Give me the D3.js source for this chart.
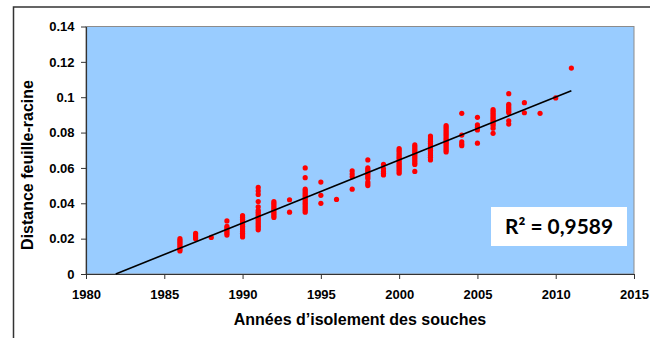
<!DOCTYPE html>
<html>
<head>
<meta charset="utf-8">
<script src="https://cdn.jsdelivr.net/npm/d3@7"></script>
<style>
  body { margin: 0; background: #fff; }
  svg { display: block; }
  text { font-family: "Liberation Sans", Arial, sans-serif; font-weight: bold; fill: #000; }
</style>
</head>
<body>
<svg id="chart" width="650" height="338"></svg>
<script>
// Isolation year of each group of strains
const sampleYears = [1986, 1987, 1988, 1989, 1990, 1991, 1992, 1993, 1994, 1995, 1996, 1997, 1998,
  1999, 2000, 2001, 2002, 2003, 2004, 2005, 2006, 2007, 2008, 2009, 2010, 2011];

// Leaf-root distance of the strains isolated that year
const distanceByYear = [
  [0.013, 0.014, 0.015, 0.016, 0.017, 0.018, 0.019, 0.020],
  [0.020, 0.021, 0.022, 0.023],
  [0.0207],
  [0.022, 0.023, 0.024, 0.025, 0.026, 0.027, 0.030],
  [0.021, 0.022, 0.023, 0.024, 0.025, 0.026, 0.027, 0.028, 0.029, 0.030, 0.031, 0.032, 0.033],
  [0.025, 0.026, 0.027, 0.028, 0.029, 0.030, 0.031, 0.032, 0.033, 0.034, 0.035, 0.036, 0.038, 0.041, 0.045, 0.047, 0.049],
  [0.032, 0.033, 0.034, 0.035, 0.036, 0.037, 0.038, 0.039, 0.040, 0.041],
  [0.035, 0.042],
  [0.035, 0.036, 0.037, 0.038, 0.039, 0.040, 0.041, 0.042, 0.043, 0.044, 0.045, 0.046, 0.047, 0.048, 0.0545, 0.060],
  [0.040, 0.0445, 0.052],
  [0.0422],
  [0.048, 0.055, 0.0565, 0.0583],
  [0.050, 0.051, 0.052, 0.054, 0.055, 0.056, 0.057, 0.058, 0.059, 0.060, 0.0645],
  [0.056, 0.057, 0.058, 0.0595, 0.062],
  [0.057, 0.058, 0.059, 0.060, 0.061, 0.062, 0.063, 0.064, 0.065, 0.066, 0.067, 0.068, 0.069, 0.070, 0.071],
  [0.058, 0.062, 0.063, 0.064, 0.065, 0.066, 0.067, 0.068, 0.069, 0.070, 0.071, 0.072, 0.073],
  [0.0645, 0.066, 0.067, 0.068, 0.069, 0.070, 0.071, 0.072, 0.073, 0.074, 0.075, 0.076, 0.077, 0.078],
  [0.069, 0.070, 0.071, 0.072, 0.073, 0.074, 0.075, 0.076, 0.077, 0.078, 0.079, 0.080, 0.081, 0.082, 0.083, 0.084],
  [0.0726, 0.0735, 0.0748, 0.0786, 0.0909],
  [0.074, 0.0815, 0.083, 0.0843, 0.0886],
  [0.0796, 0.0825, 0.084, 0.085, 0.086, 0.087, 0.088, 0.089, 0.090, 0.091, 0.092, 0.093],
  [0.0848, 0.0867, 0.0912, 0.092, 0.093, 0.094, 0.095, 0.096, 0.102],
  [0.0912, 0.0969],
  [0.0909],
  [0.0996],
  [0.1165]
];

// Linear trend line endpoints
const trendYears = [1981.9, 2011];
const trendDistances = [0, 0.1037];

const xTicks = [1980, 1985, 1990, 1995, 2000, 2005, 2010, 2015];
const yTicks = [0, 0.02, 0.04, 0.06, 0.08, 0.1, 0.12, 0.14];
const yTickLabels = ["0", "0.02", "0.04", "0.06", "0.08", "0.1", "0.12", "0.14"];

const xTitle = "Années d’isolement des souches";
const yTitle = "Distance feuille-racine";
const rSquaredLabel = "R² = 0,9589";

const svg = d3.select("#chart");
const plot = { left: 86, right: 634, top: 26.5, bottom: 274 };

const x = d3.scaleLinear().domain([1980, 2015]).range([plot.left, plot.right]);
const y = d3.scaleLinear().domain([0, 0.14]).range([plot.bottom, plot.top]);

// Outer chart frame
svg.append("path")
  .attr("d", "M13.5,338 V7 H650")
  .attr("fill", "none")
  .attr("stroke", "#333")
  .attr("stroke-width", 1.5);

// Plot area
svg.append("rect")
  .attr("x", plot.left)
  .attr("y", plot.top)
  .attr("width", plot.right - plot.left)
  .attr("height", plot.bottom - plot.top)
  .attr("fill", "#99ccff")
  .attr("stroke", "#8c8c8c")
  .attr("stroke-width", 1);

// Axes
const xAxis = svg.append("g")
  .attr("transform", `translate(0,${plot.bottom})`)
  .call(d3.axisBottom(x).tickValues(xTicks).tickFormat(d3.format("d")).tickSize(5).tickSizeOuter(0).tickPadding(11));

const yAxis = svg.append("g")
  .attr("transform", `translate(${plot.left},0)`)
  .call(d3.axisLeft(y).tickValues(yTicks).tickFormat((d, i) => yTickLabels[i]).tickSize(5).tickSizeOuter(0).tickPadding(6.5));

[xAxis, yAxis].forEach(g => {
  g.select(".domain").attr("stroke", "#333").attr("stroke-width", 1.2);
  g.selectAll(".tick line").attr("stroke", "#333");
  g.selectAll(".tick text")
    .style("font-family", "'Liberation Sans', Arial, sans-serif")
    .style("font-weight", "bold")
    .style("font-size", "13px")
    .attr("fill", "#000");
});

// Scatter points
const points = sampleYears.flatMap((yr, i) => distanceByYear[i].map(v => ({ year: yr, value: v })));
svg.append("g")
  .selectAll("circle")
  .data(points)
  .join("circle")
  .attr("cx", d => x(d.year))
  .attr("cy", d => y(d.value))
  .attr("r", 2.6)
  .attr("fill", "#ff0000");

// Trend line
svg.append("line")
  .attr("x1", x(trendYears[0]))
  .attr("y1", y(trendDistances[0]))
  .attr("x2", x(trendYears[1]))
  .attr("y2", y(trendDistances[1]))
  .attr("stroke", "#000")
  .attr("stroke-width", 1.6);

// R² label box
svg.append("rect")
  .attr("x", 491)
  .attr("y", 207)
  .attr("width", 136)
  .attr("height", 39)
  .attr("fill", "#fff");

svg.append("text")
  .attr("x", 559)
  .attr("y", 234)
  .attr("text-anchor", "middle")
  .attr("textLength", 108)
  .attr("lengthAdjust", "spacingAndGlyphs")
  .style("font-family", "Lato, 'Liberation Sans', sans-serif")
  .style("font-size", "20px")
  .text(rSquaredLabel);

// Axis titles
svg.append("text")
  .attr("x", 360)
  .attr("y", 325)
  .attr("text-anchor", "middle")
  .style("font-size", "16px")
  .text(xTitle);

svg.append("text")
  .attr("transform", "translate(32.5,165) rotate(-90)")
  .attr("text-anchor", "middle")
  .style("font-size", "16px")
  .text(yTitle);
</script>
</body>
</html>
